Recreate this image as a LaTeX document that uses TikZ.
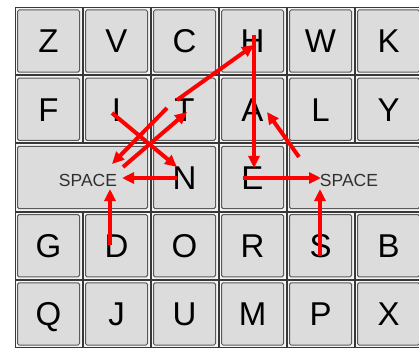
\documentclass[tikz,border=0pt]{standalone}
\usepackage{fontspec}
\setmainfont{Liberation Sans}
\usetikzlibrary{arrows.meta}
\definecolor{keyface}{HTML}{DCDCDC}
\definecolor{keyhi}{HTML}{F4F4F4}
\definecolor{keyedge}{HTML}{383838}
\definecolor{keyin}{HTML}{5A5A5A}
\definecolor{gapgray}{HTML}{808080}
\definecolor{spacetext}{HTML}{303030}
\tikzset{
  keyouter/.style={draw=keyedge, line width=1pt, fill=keyhi},
  keyinner/.style={draw=keyin, line width=1pt, fill=keyface, rounded corners=1.5pt},
  letter/.style={font=\fontsize{33}{33}\selectfont, anchor=base, inner sep=0pt, text=black},
  spacelbl/.style={font=\fontsize{17.5}{17.5}\selectfont, anchor=base, inner sep=0pt, text=spacetext},
  redarrow/.style={draw=red, line width=4pt, -{Triangle[length=12pt,width=11pt]}}
}
\newcommand\keycap[4]{%
  \draw[keyouter] (#1+0.5,#2+0.5) rectangle (#3-0.5,#4-0.5);
  \draw[keyinner] (#1+3,#2+3) rectangle (#3-3,#4-3);
}
\newcommand\keyrow[2]{%
  \foreach \l [count=\i from 0] in {#2} {
    \pgfmathsetmacro\xa{14.5+68*\i}
    \pgfmathsetmacro\ya{7+68.2*#1}
    \keycap{\xa}{\ya}{\xa+68}{\ya+68.2}
    \node[letter] (\l) at (\xa+34, \ya+34.1+11.8) {\l};
  }%
}
\begin{document}
\begin{tikzpicture}[x=1pt,y=-1pt]
\useasboundingbox (0,0) rectangle (419,347);
\fill[white] (0,0) rectangle (419,347);
\clip (0,0) rectangle (419,347);
\fill[gapgray] (14.5,7) rectangle (422.5,348);
% keys
\keyrow{0}{Z,V,C,H,W,K}
\keyrow{1}{F,I,T,A,L,Y}
\keyrow{3}{G,D,O,R,S,B}
\keyrow{4}{Q,J,U,M,P,X}
\keycap{14.5}{143.4}{150.5}{211.6}
\keycap{150.5}{143.4}{218.5}{211.6}
\keycap{218.5}{143.4}{286.5}{211.6}
\keycap{286.5}{143.4}{422.5}{211.6}
\node[spacelbl] (spaceL) at (88,186.5) {SPACE};
\node[letter] (N) at (184.5,189.3) {N};
\node[letter] (E) at (252.5,189.3) {E};
\node[spacelbl] (spaceR) at (349,186.5) {SPACE};
% arrow end points
\coordinate (t1) at (177,100);   \coordinate (h1) at (254,45);
\coordinate (h2) at (254,35);    \coordinate (e1) at (254,168);
\coordinate (e2) at (243,178);   \coordinate (sr1) at (321,178);
\coordinate (s1) at (320,256);   \coordinate (sr2) at (320,189);
\coordinate (sr3) at (299,157);  \coordinate (a1) at (267,112);
\coordinate (n1) at (177,178);   \coordinate (sl1) at (122,178);
\coordinate (d1) at (110,245);   \coordinate (sl2) at (110,189);
\coordinate (i1) at (112,113);   \coordinate (n2) at (177,167);
\coordinate (t2) at (167,108);   \coordinate (sl3) at (112,164);
\coordinate (sl4) at (123,167);  \coordinate (t3) at (187,112);
% arrows
\draw[redarrow] (t1) -- (h1);
\draw[redarrow] (h2) -- (e1);
\draw[redarrow] (e2) -- (sr1);
\draw[redarrow] (s1) -- (sr2);
\draw[redarrow] (sr3) -- (a1);
\draw[redarrow] (n1) -- (sl1);
\draw[redarrow] (d1) -- (sl2);
\draw[redarrow] (i1) -- (n2);
\draw[redarrow] (t2) -- (sl3);
\draw[redarrow] (sl4) -- (t3);
\end{tikzpicture}
\end{document}
